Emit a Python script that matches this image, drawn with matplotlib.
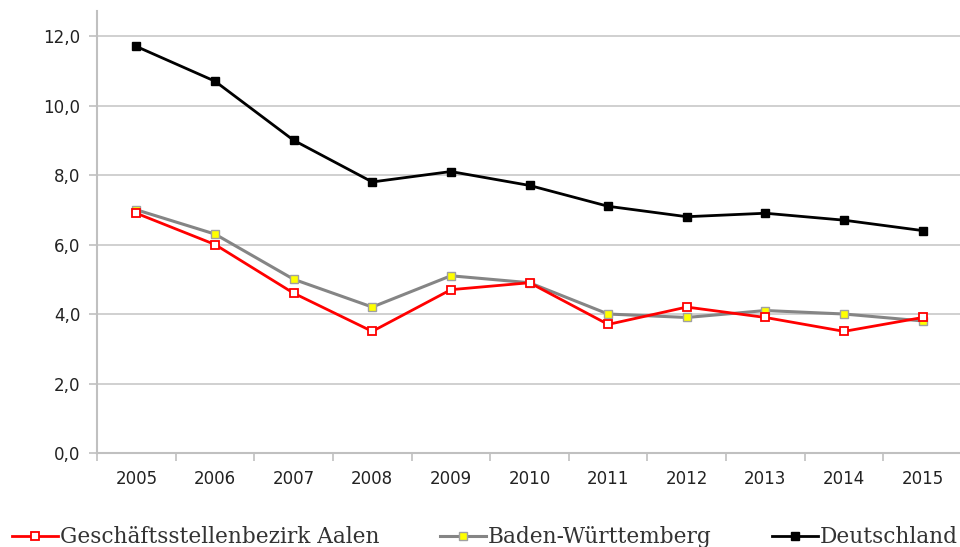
import matplotlib.pyplot as plt
import numpy as np

years = ["2005", "2006", "2007", "2008", "2009", "2010", "2011", "2012", "2013", "2014", "2015"]
aalen = [6.9, 6.0, 4.6, 3.5, 4.7, 4.9, 3.7, 4.2, 3.9, 3.5, 3.9]
bawue = [7.0, 6.3, 5.0, 4.2, 5.1, 4.9, 4.0, 3.9, 4.1, 4.0, 3.8]
deutschland = [11.7, 10.7, 9.0, 7.8, 8.1, 7.7, 7.1, 6.8, 6.9, 6.7, 6.4]
labels = ["Geschäftsstellenbezirk Aalen", "Baden-Württemberg", "Deutschland"]

fig = plt.figure(figsize=(9.6, 5.47), dpi=100)
ax = fig.add_axes([97/960, 1 - 453/547, 865/960, 442/547])

x = np.arange(len(years))
ax.plot(x, deutschland, color="black", lw=2, marker="s", ms=6,
        mfc="black", mec="black", label=labels[2], zorder=3)
ax.plot(x, bawue, color="#858585", lw=2.2, marker="s", ms=6,
        mfc="#ffff00", mec="#a0a0a0", mew=1, label=labels[1], zorder=4)
ax.plot(x, aalen, color="#ff0000", lw=2, marker="s", ms=6,
        mfc="white", mec="#ff0000", mew=1.3, label=labels[0], zorder=5)

ax.set_xlim(-0.5, len(years) - 0.5)
ax.set_ylim(0, 12.72)
ax.set_yticks(np.arange(0, 13, 2))
ax.set_yticklabels([f"{v:.1f}".replace(".", ",") for v in np.arange(0, 13, 2)])
ax.set_xticks(x)
ax.set_xticklabels(years)
ax.set_xticks(np.arange(-0.5, len(years)), minor=True)

ax.grid(axis="y", color="#c8c8c8", lw=1.2)
ax.set_axisbelow(True)
for s in ["top", "right"]:
    ax.spines[s].set_visible(False)
for s in ["left", "bottom"]:
    ax.spines[s].set_color("#c0c0c0")
    ax.spines[s].set_linewidth(1.5)
ax.tick_params(axis="y", length=6, color="#c0c0c0", width=1.2, labelsize=12, pad=6,
               labelcolor="#222222")
ax.tick_params(axis="x", which="major", length=0, labelsize=12, pad=12,
               labelcolor="#222222")
ax.tick_params(axis="x", which="minor", length=6, color="#c0c0c0", width=1.2)

# legend order as in the picture
h, l = ax.get_legend_handles_labels()
order = [2, 1, 0]
fig.legend([h[i] for i in order], [l[i] for i in order], loc="lower left",
           bbox_to_anchor=(-0.003, -0.03), ncol=3, frameon=False,
           prop={"family": "DejaVu Serif", "size": 15.6},
           labelcolor="#333333",
           handlelength=2.1, handletextpad=0.1, columnspacing=2.8, borderpad=0.2)

plt.savefig("out.png", dpi=100)
